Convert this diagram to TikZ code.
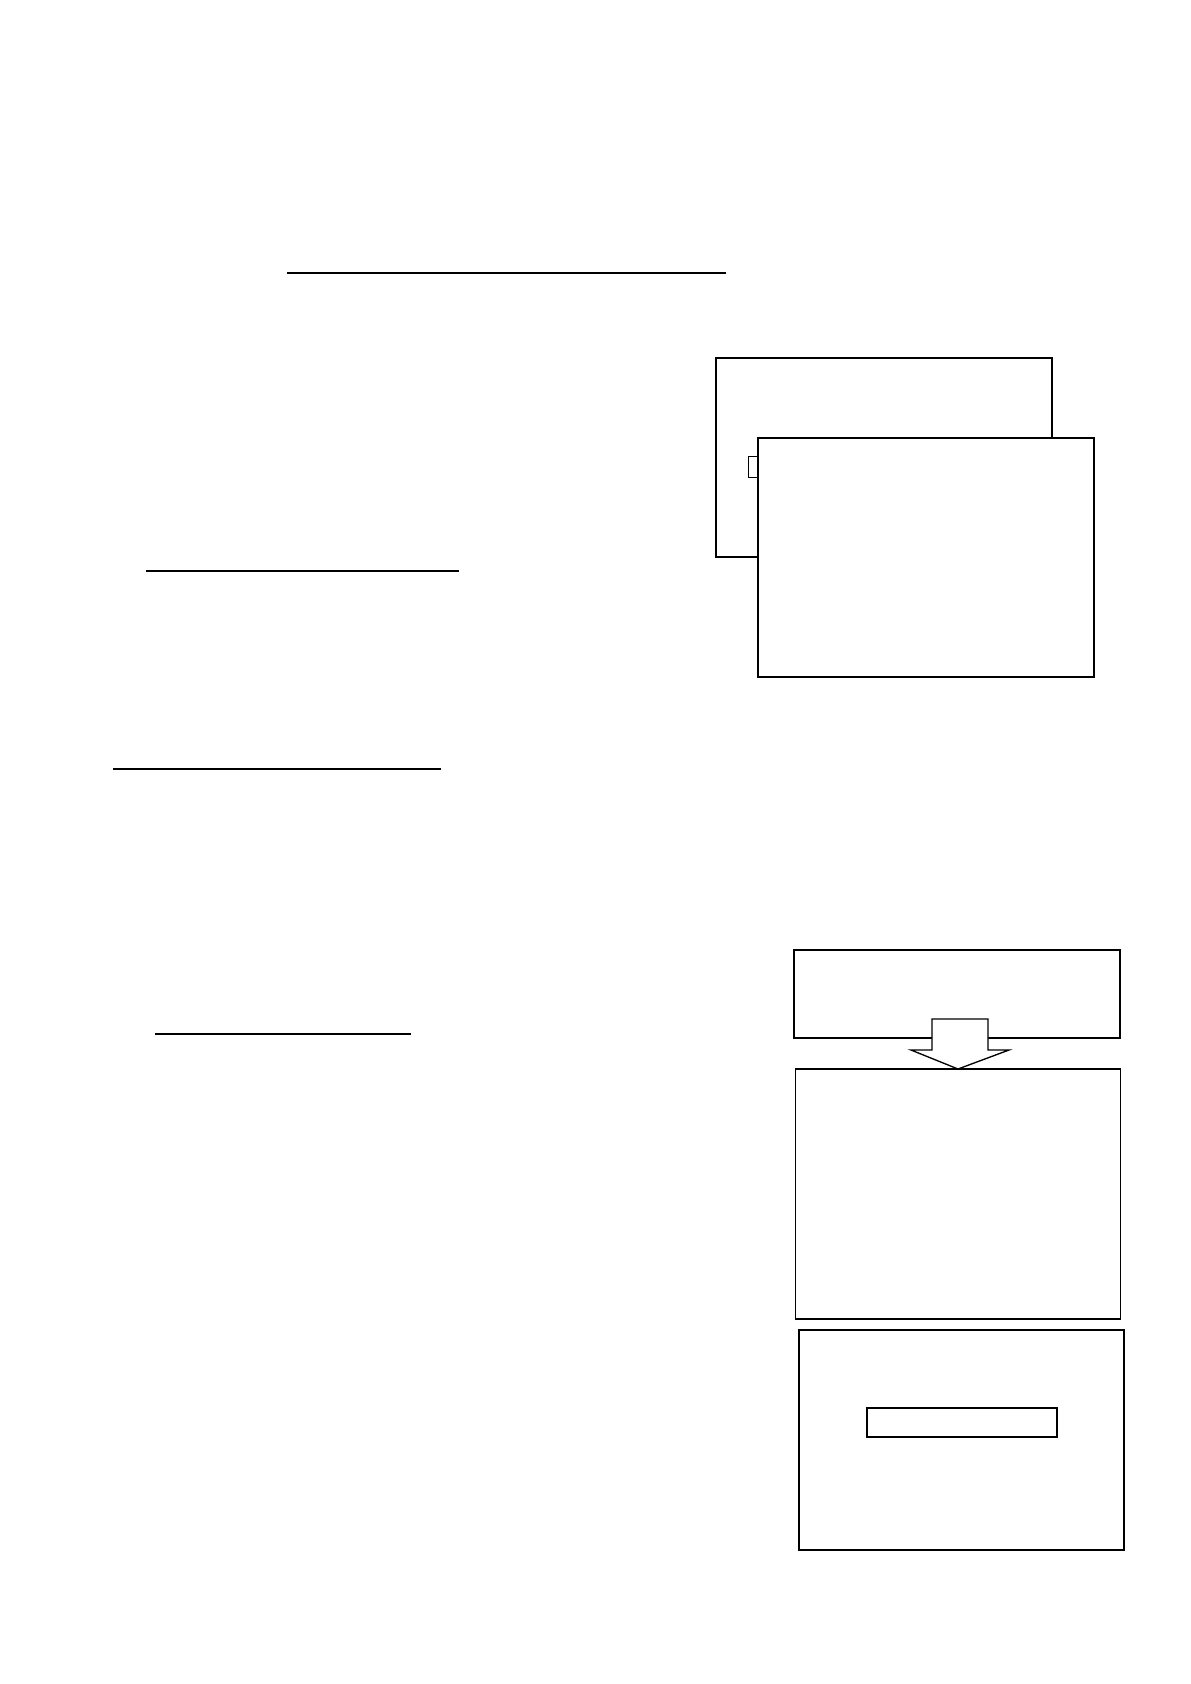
\documentclass[tikz,border=0pt]{standalone}
\usetikzlibrary{calc}

\tikzset{
  pagebox/.style={draw, fill=white, rectangle, inner sep=0pt, outer sep=0pt, line width=0.9pt},
  rule/.style={line width=0.9pt},
  arrowshape/.style={draw, fill=white, line width=1pt, line join=miter}
}

\begin{document}
\begin{tikzpicture}[x=0.75pt, y=-0.75pt]

% the page
\useasboundingbox (0,0) rectangle (1190,1684);

% the rules
\draw[rule] (287,273) -- (726,273);
\draw[rule] (146,571) -- (459,571);
\draw[rule] (113,769) -- (441,769);
\draw[rule] (155,1034) -- (411,1034);

% the two stacked sheets
\node[pagebox, minimum width=252pt, minimum height=149.25pt] (backsheet) at (884,457.5) {};
\draw[line width=0.7pt] (748,456) rectangle (770,477);
\node[pagebox, minimum width=252pt, minimum height=179.25pt] (frontsheet) at (926,557.5) {};

% the column of boxes
\node[pagebox, minimum width=244.5pt, minimum height=66pt] (intro) at (957,994) {};
\node[pagebox, minimum width=243.75pt, minimum height=187.5pt] (detail) at (958,1194) {};
\node[pagebox, minimum width=243.75pt, minimum height=165pt] (result) at (961.5,1440) {};
\node[pagebox, line width=1.5pt, minimum width=142.5pt, minimum height=21.75pt] (field) at (962,1422.5) {};

% the block arrow
\draw[arrowshape] (932,1019) -- (988,1019) -- (988,1050) -- (1009,1050)
  -- (detail.north) -- (911,1050) -- (932,1050) -- cycle;

\end{tikzpicture}
\end{document}
